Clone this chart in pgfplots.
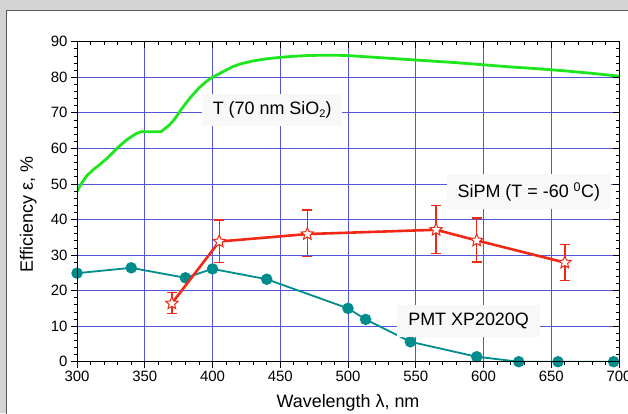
\documentclass[border=0pt]{standalone}
\usepackage{pgfplots}
\pgfplotsset{compat=1.18}
\usepackage{fontspec}
\setmainfont{Liberation Sans}
\definecolor{gridblue}{RGB}{85,85,215}
\definecolor{tgreen}{RGB}{30,230,30}
\definecolor{sred}{RGB}{240,40,20}
\definecolor{pteal}{RGB}{0,140,140}
\definecolor{bggrey}{RGB}{212,212,212}
\definecolor{boxgrey}{RGB}{248,248,248}
\pgfdeclareplotmark{ostar}{%
 \pgfpathmoveto{\pgfpointpolar{90}{\pgfplotmarksize}}%
 \pgfpathlineto{\pgfpointpolar{126}{0.45\pgfplotmarksize}}%
 \pgfpathlineto{\pgfpointpolar{162}{\pgfplotmarksize}}%
 \pgfpathlineto{\pgfpointpolar{198}{0.45\pgfplotmarksize}}%
 \pgfpathlineto{\pgfpointpolar{234}{\pgfplotmarksize}}%
 \pgfpathlineto{\pgfpointpolar{270}{0.45\pgfplotmarksize}}%
 \pgfpathlineto{\pgfpointpolar{306}{\pgfplotmarksize}}%
 \pgfpathlineto{\pgfpointpolar{342}{0.45\pgfplotmarksize}}%
 \pgfpathlineto{\pgfpointpolar{18}{\pgfplotmarksize}}%
 \pgfpathlineto{\pgfpointpolar{54}{0.45\pgfplotmarksize}}%
 \pgfpathclose
 \pgfusepathqfillstroke}
\begin{document}
\begin{tikzpicture}[x=1bp,y=1bp]
\useasboundingbox (0,0) rectangle (628,413);
\fill[bggrey] (0,0) rectangle (628,413);
\fill[white] (6.5,-5) rectangle (640,402.5);
\draw[black!65, line width=1.2bp] (6.5,-5) -- (6.5,402.5) -- (640,402.5);
\begin{axis}[
  at={(77bp,51.3bp)}, anchor=south west,
  scale only axis, width=542bp, height=320bp,
  xmin=300,xmax=700,ymin=0,ymax=90,
  xtick={300,350,...,700}, ytick={0,10,...,90},
  minor x tick num=4, minor y tick num=4,
  xtick pos=left, ytick pos=left, tick align=outside,
  major tick length=6bp, minor tick length=3.5bp,
  grid=major, major grid style={gridblue, line width=0.7bp},
  axis line style={black, line width=0.9bp},
  tick style={black, line width=0.8bp},
  ticklabel style={font=\fontsize{15}{17}\selectfont},
  /pgf/number format/assume math mode=true,
  xlabel={Wavelength λ, nm}, ylabel={Efficiency ε, \%},
  label style={font=\fontsize{18}{21}\selectfont},
  xlabel style={at={(axis description cs:0.5,-0.13)}, anchor=center},
  ylabel style={at={(axis description cs:-0.09,0.46)}, anchor=center},
  clip mode=individual,
]
\addplot[tgreen, line width=2.8bp] coordinates {
(300,47.8)(303,50)(307,52.2)(312,54)(317,55.5)(323,57.5)(330,60.2)(337,62.5)
(343,64)(347,64.7)(362,64.7)(368,66.5)(372,68.2)(377,71)(383,74)(390,77)
(396,79)(400,80)(405,81)(410,82)(415,83)(421,83.8)(430,84.6)(440,85.2)
(450,85.6)(460,85.9)(470,86.1)(480,86.2)(490,86.2)(500,86.1)(520,85.6)
(540,85.1)(560,84.6)(580,84.1)(600,83.5)(620,82.9)(640,82.4)(660,81.8)
(680,81.1)(700,80.3)};
\addplot[pteal, line width=1.8bp, mark=*, mark size=4.8bp,
  mark options={fill=pteal, draw=pteal}] coordinates {
(300,24.9)(340,26.4)(380,23.6)(400,26.1)(440,23.2)(500,15.0)(513,11.9)
(546,5.6)(595,1.4)(626,0)(655,0)(696,0)};
\addplot[sred, line width=2.6bp, mark=ostar, mark size=6.5bp,
  mark options={fill=white, draw=sred, line width=1bp},
  error bars/.cd, y dir=both, y explicit,
  error bar style={sred, line width=1.5bp},
  error mark options={sred, line width=1.5bp, mark size=5bp, rotate=90}]
coordinates {
(370,16.4) += (0,3.1) -= (0,2.8)
(405,33.8) += (0,6.1) -= (0,5.9)
(470,35.9) += (0,6.7) -= (0,6.3)
(565,37.1) += (0,6.8) -= (0,6.6)
(595,34.1) += (0,6.3) -= (0,6.1)
(660,27.9) += (0,5.1) -= (0,5.1)};
\node[fill=boxgrey, inner xsep=11bp, inner ysep=8bp, font=\fontsize{18}{21}\selectfont]
  at (axis cs:444,70.8) {T (70 nm SiO\raisebox{-0.35ex}{\fontsize{11}{13}\selectfont 2})};
\node[fill=boxgrey, inner xsep=11bp, inner ysep=8bp, font=\fontsize{18}{21}\selectfont]
  at (axis cs:633.5,47.8) {SiPM (T = -60 \textsuperscript{0}C)};
\node[fill=boxgrey, inner xsep=11bp, inner ysep=8bp, font=\fontsize{18}{21}\selectfont]
  at (axis cs:589,11.5) {PMT XP2020Q};
\end{axis}
\begin{axis}[
  at={(77bp,51.3bp)}, anchor=south west,
  scale only axis, width=542bp, height=320bp,
  xmin=300,xmax=700,ymin=0,ymax=90,
  xtick={300,350,...,700}, ytick={0,10,...,90},
  minor x tick num=4, minor y tick num=4,
  xtick pos=right, ytick pos=right, tick align=inside,
  major tick length=6bp, minor tick length=3.5bp,
  xticklabels={}, yticklabels={},
  axis line style={black, line width=0.9bp},
  tick style={black, line width=0.8bp},
]
\end{axis}
\end{tikzpicture}
\end{document}
